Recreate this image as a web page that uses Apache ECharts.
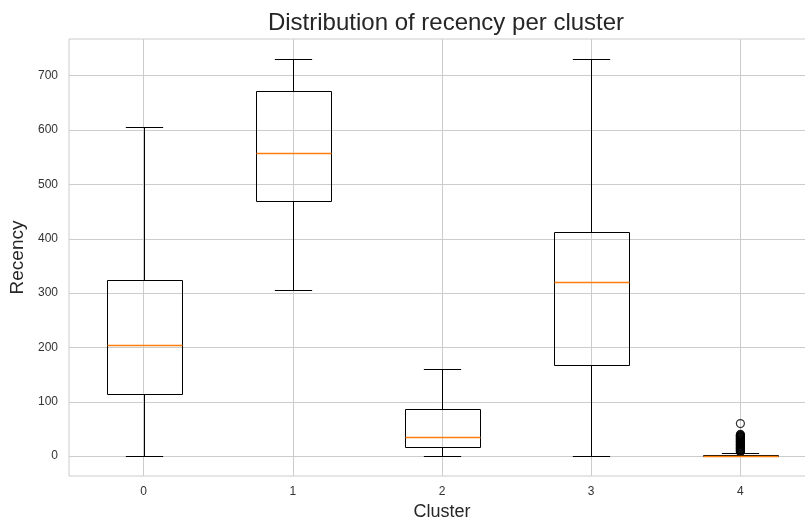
<!DOCTYPE html>
<html>
<head>
<meta charset="utf-8">
<script src="https://cdn.jsdelivr.net/npm/echarts@6/dist/echarts.min.js"></script>
<style>
    html, body { margin: 0; padding: 0; background: #fff; }
    #chart { width: 805px; height: 523px; }
</style>
</head>
<body>
<div id="chart"></div>
<script>

var clusters = [0, 1, 2, 3, 4];
var whiskerLow = [0, 305, 0, 0, 0];
var q1 = [115, 470, 17, 167, 0];
var median = [204, 557, 36, 320, 1];
var q3 = [325, 672, 86, 413, 2];
var whiskerHigh = [605, 731, 160, 731, 5];
// fliers of cluster 4
var outliers4 = [8, 9, 10, 11, 12, 13, 14, 15, 16, 17, 18, 19, 20, 21, 22, 23, 24, 25,
    26, 27, 28, 29, 30, 31, 32, 33, 34, 35, 36, 37, 38, 39, 40, 60];
var yTicks = [0, 100, 200, 300, 400, 500, 600, 700];

var FONT = "'Liberation Sans', Arial, sans-serif";

var boxData = clusters.map(function (c, i) {
    return [c, whiskerLow[i], q1[i], median[i], q3[i], whiskerHigh[i]];
});
var flierData = outliers4.map(function (v) {
    return [4, v];
});

function px(v) {
    return Math.round(v) + 0.5;
}

function renderBox(params, api) {
    var x = api.value(0);
    var bw = api.size([1, 0])[0] * 0.5;
    var pLo = api.coord([x, api.value(1)]);
    var pQ1 = api.coord([x, api.value(2)]);
    var pMed = api.coord([x, api.value(3)]);
    var pQ3 = api.coord([x, api.value(4)]);
    var pHi = api.coord([x, api.value(5)]);
    var cx = px(pLo[0]);
    var black = { stroke: '#000', lineWidth: 1, fill: null };
    var left = Math.round(cx - bw / 2) + 0.5;
    var right = Math.round(cx + bw / 2) + 0.5;
    return {
        type: 'group',
        children: [
            { type: 'line', shape: { x1: cx, y1: px(pQ1[1]), x2: cx, y2: px(pLo[1]) }, style: black },
            { type: 'line', shape: { x1: cx, y1: px(pQ3[1]), x2: cx, y2: px(pHi[1]) }, style: black },
            { type: 'line', shape: { x1: cx - bw / 4, y1: px(pLo[1]), x2: cx + bw / 4, y2: px(pLo[1]) }, style: black },
            { type: 'line', shape: { x1: cx - bw / 4, y1: px(pHi[1]), x2: cx + bw / 4, y2: px(pHi[1]) }, style: black },
            {
                type: 'rect',
                shape: { x: left, y: px(pQ3[1]), width: right - left, height: px(pQ1[1]) - px(pQ3[1]) },
                style: { stroke: '#000', lineWidth: 1, fill: 'none' }
            },
            {
                type: 'line',
                shape: { x1: left, y1: px(pMed[1]), x2: right, y2: px(pMed[1]) },
                style: { stroke: '#ff7f0e', lineWidth: 1.5 }
            }
        ]
    };
}

var option = {
    backgroundColor: '#fff',
    animation: false,
    title: {
        text: 'Distribution of recency per cluster',
        left: 441,
        textAlign: 'center',
        top: 6,
        textStyle: { fontFamily: FONT, fontSize: 24, fontWeight: 'normal', color: '#262626' }
    },
    grid: {
        left: 69,
        top: 39,
        width: 746,
        height: 437,
        outerBoundsMode: 'none',
        containLabel: false,
        show: true,
        borderColor: '#cccccc',
        borderWidth: 1
    },
    xAxis: {
        type: 'value',
        min: -0.5,
        max: 4.5,
        name: 'Cluster',
        nameLocation: 'middle',
        nameGap: 27,
        nameTextStyle: { fontFamily: FONT, fontSize: 18, color: '#262626' },
        axisLine: { show: false },
        axisTick: { show: false, customValues: clusters },
        axisLabel: {
            customValues: clusters,
            margin: 10,
            fontFamily: FONT,
            fontSize: 12,
            color: '#333'
        },
        splitLine: { show: true, lineStyle: { color: '#cccccc', width: 1 } }
    },
    yAxis: {
        type: 'value',
        min: -36.55,
        max: 767.55,
        name: 'Recency',
        nameLocation: 'middle',
        nameGap: 38,
        nameTextStyle: { fontFamily: FONT, fontSize: 19, color: '#262626' },
        axisLine: { show: false },
        axisTick: { show: false, customValues: yTicks },
        axisLabel: {
            customValues: yTicks,
            margin: 11,
            fontFamily: FONT,
            fontSize: 12,
            color: '#333'
        },
        splitLine: { show: true, lineStyle: { color: '#cccccc', width: 1 } }
    },
    series: [
        {
            name: 'fliers',
            type: 'scatter',
            data: flierData,
            symbol: 'circle',
            symbolSize: 8,
            itemStyle: { color: 'rgba(255,255,255,0)', borderColor: '#000', borderWidth: 1.2 },
            z: 2
        },
        {
            name: 'recency',
            type: 'custom',
            data: boxData,
            encode: { x: 0, y: [1, 2, 3, 4, 5] },
            renderItem: renderBox,
            z: 3
        }
    ]
};

var chart = echarts.init(document.getElementById('chart'));
chart.setOption(option);

window.addEventListener('resize', function () {
    chart.resize();
});
</script>
</body>
</html>
